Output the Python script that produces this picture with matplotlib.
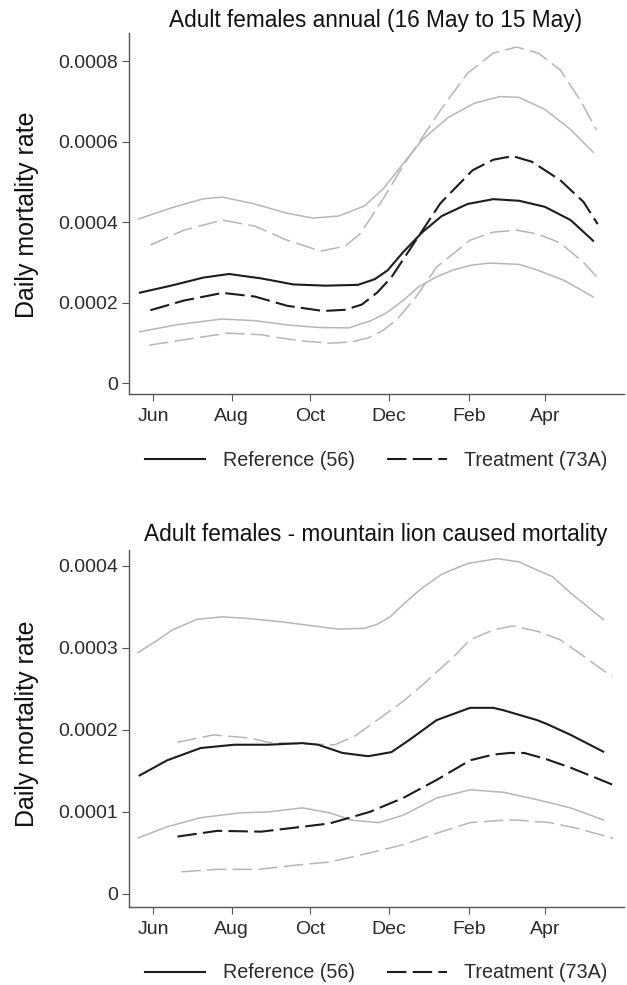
import matplotlib
matplotlib.use("Agg")
import matplotlib.pyplot as plt
from matplotlib.lines import Line2D

plt.rcParams['font.family'] = ['Liberation Sans', 'DejaVu Sans']
plt.rcParams['lines.scale_dashes'] = False

# ---------------- data ----------------
UNIT = 1e-4  # values below are in units of 1e-4
# x positions: days since 16 May
month_ticks = [16, 77, 138, 199, 261, 320]
month_labels = ["Jun", "Aug", "Oct", "Dec", "Feb", "Apr"]
legend_labels = ["Reference (56)", "Treatment (73A)"]

# --- top panel: annual ---
top_title = "Adult females annual (16 May to 15 May)"
top_yticks = [0, 2, 4, 6, 8]
top_yticklabels = ["0", "0.0002", "0.0004", "0.0006", "0.0008"]

top_ref_mean_x = [5, 30, 55, 75, 100, 125, 150, 175, 188, 198, 210, 225, 240, 260, 280, 300, 320, 340, 358]
top_ref_mean_y = [2.24, 2.42, 2.62, 2.71, 2.60, 2.45, 2.42, 2.44, 2.58, 2.80, 3.25, 3.75, 4.15, 4.45, 4.57, 4.53, 4.38, 4.05, 3.52]

top_ref_up_x = [4, 30, 55, 70, 95, 120, 140, 160, 180, 195, 210, 225, 245, 265, 285, 300, 320, 340, 358]
top_ref_up_y = [4.07, 4.35, 4.58, 4.62, 4.45, 4.22, 4.10, 4.15, 4.40, 4.84, 5.45, 6.05, 6.60, 6.95, 7.12, 7.10, 6.80, 6.30, 5.72]

top_ref_lo_x = [5, 35, 69, 95, 121, 145, 168, 185, 197, 210, 222, 236, 249, 263, 277, 300, 314, 335, 358]
top_ref_lo_y = [1.27, 1.45, 1.59, 1.55, 1.44, 1.38, 1.37, 1.55, 1.74, 2.05, 2.39, 2.64, 2.81, 2.93, 2.98, 2.95, 2.81, 2.55, 2.13]

top_trt_mean_x = [14, 40, 70, 95, 120, 148, 165, 178, 190, 201, 220, 239, 264, 280, 295, 310, 332, 350, 361]
top_trt_mean_y = [1.81, 2.05, 2.24, 2.15, 1.92, 1.79, 1.82, 1.95, 2.25, 2.63, 3.55, 4.47, 5.29, 5.55, 5.64, 5.50, 5.04, 4.50, 3.95]

top_trt_up_x = [14, 40, 70, 95, 120, 146, 165, 177, 195, 210, 220, 239, 260, 280, 298, 315, 332, 348, 360]
top_trt_up_y = [3.43, 3.80, 4.05, 3.90, 3.55, 3.28, 3.40, 3.72, 4.60, 5.40, 5.87, 6.78, 7.70, 8.20, 8.35, 8.20, 7.78, 7.00, 6.29]

top_trt_lo_x = [13, 45, 74, 100, 111, 130, 153, 170, 183, 195, 205, 220, 236, 262, 280, 298, 315, 332, 350, 361]
top_trt_lo_y = [0.94, 1.10, 1.24, 1.20, 1.14, 1.05, 0.99, 1.02, 1.12, 1.32, 1.57, 2.14, 2.88, 3.55, 3.75, 3.80, 3.70, 3.48, 3.00, 2.61]

# --- bottom panel: mountain lion ---
bot_title = "Adult females - mountain lion caused mortality"
bot_yticks = [0, 1, 2, 3, 4]
bot_yticklabels = ["0", "0.0001", "0.0002", "0.0003", "0.0004"]

bot_ref_up_x = [4, 20, 31, 50, 70, 90, 115, 135, 160, 180, 190, 200, 210, 223, 240, 260, 283, 300, 314, 326, 340, 366]
bot_ref_up_y = [2.94, 3.10, 3.22, 3.35, 3.38, 3.36, 3.32, 3.28, 3.23, 3.24, 3.29, 3.38, 3.53, 3.71, 3.90, 4.03, 4.09, 4.05, 3.95, 3.87, 3.67, 3.34]

bot_ref_mean_x = [5, 27, 53, 79, 105, 132, 144, 163, 183, 201, 215, 236, 262, 280, 288, 314, 322, 340, 366]
bot_ref_mean_y = [1.44, 1.63, 1.78, 1.82, 1.82, 1.84, 1.82, 1.72, 1.68, 1.73, 1.88, 2.12, 2.27, 2.27, 2.24, 2.12, 2.07, 1.94, 1.73]

bot_ref_lo_x = [4, 27, 53, 84, 105, 132, 153, 170, 191, 210, 236, 262, 288, 314, 340, 366]
bot_ref_lo_y = [0.68, 0.82, 0.93, 0.99, 1.00, 1.05, 0.99, 0.90, 0.87, 0.96, 1.17, 1.27, 1.24, 1.15, 1.05, 0.90]

bot_trt_up_x = [35, 63, 92, 105, 132, 157, 172, 190, 210, 223, 249, 262, 280, 295, 315, 332, 350, 372]
bot_trt_up_y = [1.85, 1.94, 1.90, 1.85, 1.83, 1.82, 1.92, 2.12, 2.35, 2.52, 2.89, 3.10, 3.22, 3.27, 3.20, 3.10, 2.90, 2.65]

bot_trt_mean_x = [35, 66, 100, 132, 153, 184, 210, 236, 262, 280, 293, 304, 320, 340, 373]
bot_trt_mean_y = [0.70, 0.77, 0.76, 0.82, 0.86, 1.00, 1.17, 1.39, 1.63, 1.70, 1.72, 1.72, 1.65, 1.54, 1.33]

bot_trt_lo_x = [38, 66, 98, 126, 153, 184, 210, 236, 262, 288, 300, 324, 345, 373]
bot_trt_lo_y = [0.27, 0.30, 0.30, 0.35, 0.39, 0.50, 0.60, 0.74, 0.87, 0.90, 0.90, 0.87, 0.80, 0.68]

# ---------------- style ----------------
W, H = 627, 985
BLACK = "#1c1c1c"
GRAY = "#b6b6b6"
AXCOL = "#555555"
TXT = "#2a2a2a"
DASH = (0, (14, 4.5))
TICK_FS = 14
TITLE_FS = 16.3
YLAB_FS = 18
LEG_FS = 14.2


def px_rect(left, top, right, bottom):
    return [left / W, 1 - bottom / H, (right - left) / W, (bottom - top) / H]


fig = plt.figure(figsize=(W / 100, H / 100), dpi=100)
fig.patch.set_facecolor("white")


def make_panel(rect, title, title_y, ylab_y, ylim, yticks, yticklabels, series, leg_y):
    ax = fig.add_axes(rect)
    for xs, ys, color, ls, lw in series:
        ax.plot(xs, [v * UNIT for v in ys], color=color, linestyle=ls, linewidth=lw,
                solid_capstyle="butt", dash_capstyle="butt", solid_joinstyle="round")
    ax.set_xlim(-2.6, 381.4)
    ax.set_ylim(ylim[0] * UNIT, ylim[1] * UNIT)
    ax.set_xticks(month_ticks)
    ax.set_xticklabels(month_labels)
    ax.set_yticks([t * UNIT for t in yticks])
    ax.set_yticklabels(yticklabels)
    for s in ["top", "right"]:
        ax.spines[s].set_visible(False)
    for s in ["left", "bottom"]:
        ax.spines[s].set_color(AXCOL)
        ax.spines[s].set_linewidth(1.0)
    ax.tick_params(axis="both", colors=AXCOL, labelcolor=TXT, labelsize=TICK_FS,
                   length=5, width=0.8)
    ax.tick_params(axis="y", pad=3)
    ax.tick_params(axis="x", pad=5)
    fig.text(376 / W, 1 - title_y / H, title, ha="center", va="center",
             fontsize=TITLE_FS, color="#111111")
    fig.text(27 / W, 1 - ylab_y / H, "Daily mortality rate", rotation=90,
             ha="center", va="center", fontsize=YLAB_FS, color="#111111")
    handles = [Line2D([], [], color=BLACK, lw=1.5),
               Line2D([], [], color=BLACK, lw=1.5, linestyle=DASH)]
    ax.legend(handles, legend_labels, loc="center", bbox_to_anchor=(0.5, leg_y),
              ncol=2, frameon=False, handlelength=3.05, handletextpad=0.9,
              columnspacing=1.6, fontsize=LEG_FS, labelcolor=TXT)
    return ax


top_series = [
    (top_ref_up_x, top_ref_up_y, GRAY, "-", 1.1),
    (top_ref_lo_x, top_ref_lo_y, GRAY, "-", 1.1),
    (top_trt_up_x, top_trt_up_y, GRAY, DASH, 1.1),
    (top_trt_lo_x, top_trt_lo_y, GRAY, DASH, 1.1),
    (top_ref_mean_x, top_ref_mean_y, BLACK, "-", 1.5),
    (top_trt_mean_x, top_trt_mean_y, BLACK, DASH, 1.5),
]
bot_series = [
    (bot_ref_up_x, bot_ref_up_y, GRAY, "-", 1.1),
    (bot_ref_lo_x, bot_ref_lo_y, GRAY, "-", 1.1),
    (bot_trt_up_x, bot_trt_up_y, GRAY, DASH, 1.1),
    (bot_trt_lo_x, bot_trt_lo_y, GRAY, DASH, 1.1),
    (bot_ref_mean_x, bot_ref_mean_y, BLACK, "-", 1.5),
    (bot_trt_mean_x, bot_trt_mean_y, BLACK, DASH, 1.5),
]

make_panel(px_rect(129, 33, 624, 394), top_title, 21, 215, (-0.273, 8.70),
           top_yticks, top_yticklabels, top_series, (394 - 460) / 361)
make_panel(px_rect(129, 550, 624, 907), bot_title, 535, 724, (-0.159, 4.195),
           bot_yticks, bot_yticklabels, bot_series, (907 - 973) / 357)

fig.savefig("out.png", dpi=100, facecolor="white")
